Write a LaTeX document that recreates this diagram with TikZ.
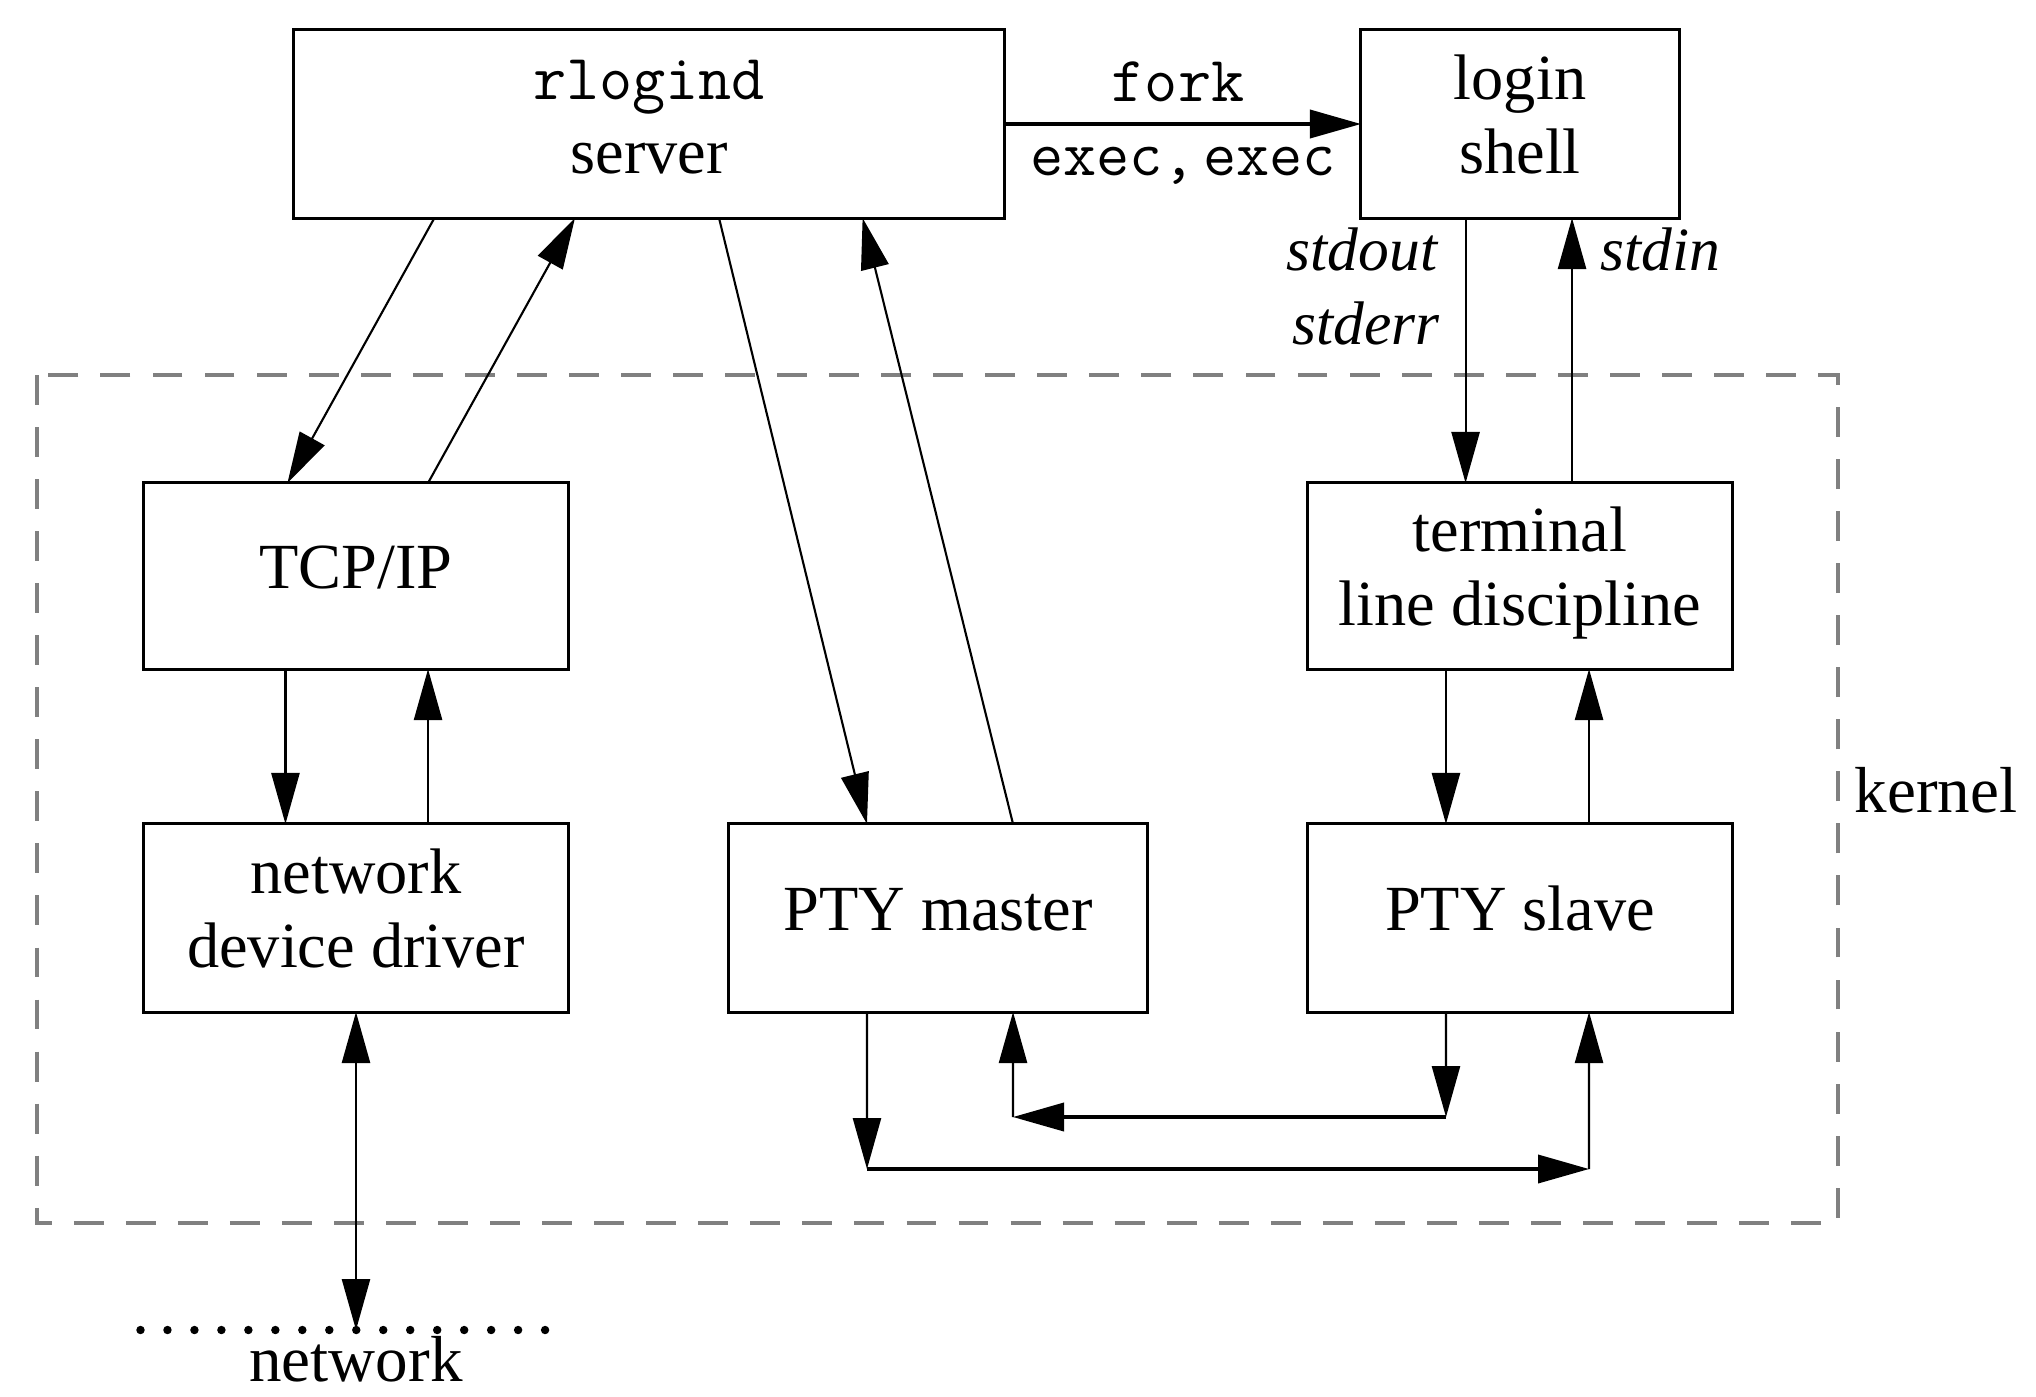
\documentclass[tikz,border=0pt]{standalone}
\usepackage{fontspec}
\setmainfont{Liberation Serif}
\usetikzlibrary{arrows.meta,calc}
\begin{document}
\begin{tikzpicture}[x=0.01cm,y=-0.01cm,
  box/.style={draw,line width=0.85pt,rectangle,inner sep=0pt,outer sep=0pt,align=center,
    font=\fontsize{18.3}{21}\selectfont},
  oneline/.style={text height=13pt,text depth=5.8pt},
  twoline/.style={text height=34pt,text depth=5.8pt},
  tip/.tip={Triangle[length=14.5pt,width=8pt]},
  arr/.style={-tip,line width=0.6pt},
  darr/.style={tip-tip,line width=0.6pt},
  tarr/.style={-tip,line width=0.95pt},
  lbl/.style={inner sep=0pt,font=\fontsize{18.5}{21}\selectfont},
  ilbl/.style={inner sep=0pt,font=\fontsize{17.5}{21}\selectfont\itshape},
  mono/.style={inner sep=0pt,font=\fontsize{18.3}{21}\ttfamily}]
\useasboundingbox (0,0) rectangle (2036,1396);
% kernel region
\draw[black!50,line width=1.1pt,dash pattern=on 8.5pt off 6.3pt] (37,375) rectangle (1838,1223);
% boxes
\node[box,twoline,minimum width=7.1cm,minimum height=1.88cm] (rl) at (649,124)
  {{\fontsize{18.3}{21}\ttfamily rlogind}\\server};
\node[box,twoline,minimum width=3.18cm,minimum height=1.88cm] (login) at (1520,124) {login\\shell};
\node[box,oneline,minimum width=4.24cm,minimum height=1.86cm] (tcp) at (356,576) {TCP/IP};
\node[box,twoline,minimum width=4.24cm,minimum height=1.88cm] (netdev) at (356,918) {network\\device driver};
\node[box,oneline,minimum width=4.18cm,minimum height=1.88cm] (ptym) at (938,918) {PTY master};
\node[box,twoline,minimum width=4.24cm,minimum height=1.86cm] (term) at (1520,576) {terminal\\line discipline};
\node[box,oneline,minimum width=4.24cm,minimum height=1.88cm] (ptys) at (1520,918) {PTY slave};
% labels
\node[mono,anchor=base] (fork) at (1178,101) {fork};
\node[mono,anchor=base] (exec) at (1183,175) {exec,\hspace{2pt}exec};
\node[ilbl,anchor=base east] (stdout) at (1438,270) {stdout};
\node[ilbl,anchor=base east] (stderr) at (1440,344) {stderr};
\node[ilbl,anchor=base west] (stdin) at (1600,270) {stdin};
\node[lbl,anchor=base west] (kernel) at (1854,812) {kernel};
\node[lbl,anchor=base] (netlbl) at (356,1381) {network};
% connectors top
\draw[tarr] (rl.east) -- (login.west);
\draw[arr] ([xshift=-2.145cm]rl.south) -- ([xshift=-0.685cm]tcp.north);
\draw[arr] ([xshift=0.72cm]tcp.north) -- ([xshift=-0.74cm]rl.south);
\draw[arr] ([xshift=0.70cm]rl.south) -- ([xshift=-0.71cm]ptym.north);
\draw[arr] ([xshift=0.75cm]ptym.north) -- ([xshift=2.135cm]rl.south);
\draw[arr] ([xshift=-0.544cm]login.south) -- ([xshift=-0.544cm]term.north);
\draw[arr] ([xshift=0.52cm]term.north) -- ([xshift=0.52cm]login.south);
% tcp <-> netdev
\draw[arr] ([xshift=-0.705cm]tcp.south) -- ([xshift=-0.705cm]netdev.north);
\draw[arr] ([xshift=0.72cm]netdev.north) -- ([xshift=0.72cm]tcp.south);
% term <-> ptys
\draw[arr] ([xshift=-0.74cm]term.south) -- ([xshift=-0.74cm]ptys.north);
\draw[arr] ([xshift=0.69cm]ptys.north) -- ([xshift=0.69cm]term.south);
% network
\coordinate (net) at (356,1330);
\draw[line width=2.4pt,line cap=round,dash pattern=on 0pt off 7.67pt] (140.5,1330) -- (572,1330);
\draw[darr] (netdev.south) -- (net);
% bottom loops
\coordinate (c1) at (867,1169);
\coordinate (c2) at (1589,1169);
\coordinate (c3) at (1446,1117);
\coordinate (c4) at (1013,1117);
\draw[arr] ([xshift=-0.71cm]ptym.south) -- (c1);
\draw[tarr] (c1) -- (c2);
\draw[arr] (c2) -- ([xshift=0.69cm]ptys.south);
\draw[arr] ([xshift=-0.74cm]ptys.south) -- (c3);
\draw[tarr] (c3) -- (c4);
\draw[arr] (c4) -- ([xshift=0.75cm]ptym.south);
\end{tikzpicture}
\end{document}
